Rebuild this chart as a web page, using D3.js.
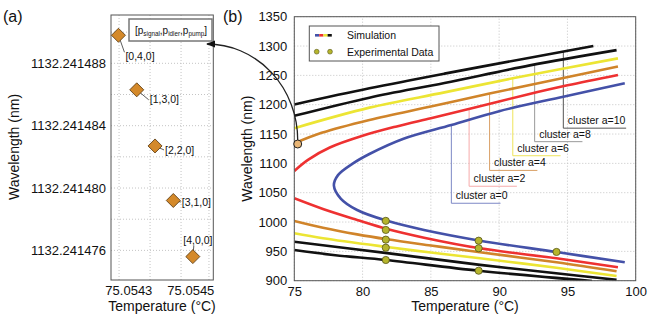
<!DOCTYPE html>
<html>
<head>
<meta charset="utf-8">
<script src="https://cdn.jsdelivr.net/npm/d3@7"></script>
<style>
  body { margin: 0; background: #fff; }
  text { font-family: "Liberation Sans", Arial, sans-serif; fill: #111; }
  .grid line { stroke: #c4c4c4; stroke-dasharray: 1,2; stroke-width: 1; }
</style>
</head>
<body>
<svg id="fig" width="654" height="322"></svg>
<script>
// ---- panel (a): mode combinations at the degenerate point ----
const modeLabels = ['[0,4,0]', '[1,3,0]', '[2,2,0]', '[3,1,0]', '[4,0,0]'];
const modeTemps = [75.054268, 75.054327, 75.054386, 75.054445, 75.054508];
const modeWaves = [1132.2414898, 1132.2414863, 1132.2414827, 1132.2414792, 1132.2414756];
const aWaveTicks = [1132.241476, 1132.241480, 1132.241484, 1132.241488];
const aWaveGrid = [1132.241476, 1132.241478, 1132.241480, 1132.241482, 1132.241484, 1132.241486, 1132.241488, 1132.241490];
const aTempTicks = [75.0543, 75.0545];
const aTempGrid = [75.05427, 75.05437, 75.05447, 75.05456];

// ---- panel (b): simulated clusters, [temperature, wavelength] ----
const simA0 = [[99.2,1236.5],[94.7,1213.6],[90,1189],[86.5,1165.4],[83,1142],[80.5,1116],[79.3,1100],[78.2,1080],
               [77.9,1062],[78.4,1040],[79.6,1020.5],[81.8,1002],[84.5,986.4],[88.6,968.2],[94.2,948.9],[99.2,931.4]];
const simA2Up = [[75,1087],[76,1106],[77.6,1127],[80,1147],[82.5,1163],[85,1177],[88,1194],[92,1217],[95,1233],[98.7,1250.6]];
const simA2Low = [[75,1040.4],[77.15,1021.7],[79.6,1003.5],[81.8,988.1],[84.5,973.3],[88.6,955.2],[94.2,938.2],[98.7,923]];
const simA4Up = [[75,1134],[77,1152],[80.5,1174],[85,1197],[89.3,1219],[94,1242],[98.7,1265]];
const simA4Low = [[75,1001.8],[77.1,990.3],[79.6,979],[81.8,970.6],[85,960],[88.6,948.4],[94.2,931.4],[98.6,916]];
const simA6Up = [[75,1160],[80.5,1195],[86,1221],[91,1245],[98.7,1279]];
const simA6Low = [[75,980.8],[77.1,972.3],[81.8,957.4],[85,948],[88.6,938.2],[94.2,922],[98.6,908]];
const simA8Up = [[75,1181],[80.5,1212],[86,1237],[92.25,1267],[98.6,1293]];
const simA8Low = [[75,966.5],[81.8,947],[88.6,927],[94,913],[98.6,901.5]];
const simA10Up = [[75,1200.5],[80.5,1228],[86,1253],[92.25,1280],[96.9,1300]];
const simA10Low = [[75,952.3],[78,943.5],[81.7,935.3],[88.5,917],[96.8,899.5]];

const expTemps = [81.7, 81.7, 81.7, 81.7, 81.7, 88.5, 88.5, 88.5, 94.2];
const expWaves = [1002, 986.5, 970, 956.3, 935.3, 968.2, 955.3, 917, 949];
const markedTemp = 75.25, markedWave = 1133;

const clusterNames = ['cluster a=0', 'cluster a=2', 'cluster a=4', 'cluster a=6', 'cluster a=8', 'cluster a=10'];
const clusterTagTemps = [86.5, 87.8, 89.3, 91.0, 92.6, 94.7];
const clusterTagWaves = [1032, 1061, 1088, 1113, 1137, 1160];
const clusterTagEnds = [90.1, 91.3, 92.8, 94.5, 96.1, 99.3];

const bTempTicks = [75, 80, 85, 90, 95, 100];
const bWaveTicks = [900, 950, 1000, 1050, 1100, 1150, 1200, 1250, 1300, 1350];

// styles
const curveColors = ['#4451a8', '#ee3131', '#d0842a', '#ece534', '#111', '#111'];
const tagColors = ['#7d88c6', '#f6aaaa', '#d9a066', '#eee45a', '#999', '#555'];

const svg = d3.select('#fig');

// ================= panel (a) =================
const xA = d3.scaleLinear().domain([75.054244, 75.054574]).range([111, 213.3]);
const yA = d3.scaleLinear().domain([1132.2414741, 1132.2414911]).range([280, 15]);

const gA = svg.append('g');
gA.append('g').attr('class', 'grid')
  .selectAll('line').data(aWaveGrid).enter().append('line')
  .attr('x1', xA.range()[0]).attr('x2', xA.range()[1])
  .attr('y1', d => yA(d)).attr('y2', d => yA(d));
gA.append('g').attr('class', 'grid')
  .selectAll('line').data(aTempGrid).enter().append('line')
  .attr('y1', yA.range()[0]).attr('y2', yA.range()[1])
  .attr('x1', d => xA(d)).attr('x2', d => xA(d));

let axA = gA.append('g').attr('transform', 'translate(111,0)')
  .call(d3.axisLeft(yA).tickValues(aWaveTicks).tickSize(0).tickPadding(5).tickFormat(d => d.toFixed(6)));
axA.select('.domain').remove();
axA.selectAll('text').style('font-size', '13px').attr('fill', '#111');

let axAx = gA.append('g').attr('transform', 'translate(0,280)')
  .call(d3.axisBottom(xA).tickValues(aTempTicks).tickSize(0).tickPadding(6).tickFormat(d => d.toFixed(4)));
axAx.select('.domain').remove();
axAx.selectAll('text').style('font-size', '13px').attr('fill', '#111');

gA.append('rect')
  .attr('x', 111).attr('y', 15).attr('width', 102.3).attr('height', 265)
  .attr('fill', 'none').attr('stroke', '#555');

// mode labels with leader lines
const modeOffsets = [[7, 21, 'start'], [13, 10, 'start'], [10, 4, 'start'], [8.5, 1.5, 'start'], [5, -16, 'middle']];
const modes = modeLabels.map((l, i) => ({ label: l, t: modeTemps[i], w: modeWaves[i], off: modeOffsets[i] }));

gA.selectAll('.lead').data(modes).enter().append('line')
  .attr('class', 'lead')
  .attr('x1', d => xA(d.t)).attr('y1', d => yA(d.w))
  .attr('x2', d => xA(d.t) + d.off[0] * (d.off[2] == 'middle' ? 0.2 : 1) - (d.off[2] == 'middle' ? 0 : 1))
  .attr('y2', d => yA(d.w) + d.off[1] + (d.off[2] == 'middle' ? 5 : (d.off[1] > 15 ? -4 : 0)))
  .attr('stroke', '#333').attr('stroke-width', 0.8);

gA.selectAll('.mode').data(modes).enter().append('path')
  .attr('class', 'mode')
  .attr('d', d3.symbol().type(d3.symbolSquare).size(98))
  .attr('transform', d => `translate(${xA(d.t)},${yA(d.w)}) rotate(45)`)
  .attr('fill', '#d4892a').attr('stroke', '#5a3a10').attr('stroke-width', 0.8);

gA.selectAll('.modeText').data(modes).enter().append('text')
  .attr('class', 'modeText')
  .attr('x', d => xA(d.t) + d.off[0]).attr('y', d => yA(d.w) + d.off[1])
  .attr('dy', '0.35em').attr('text-anchor', d => d.off[2])
  .style('font-size', '10.5px').text(d => d.label);

// legend box of panel (a)
gA.append('rect').attr('x', 129).attr('y', 19).attr('width', 83).attr('height', 22)
  .attr('fill', '#fff').attr('stroke', '#777').attr('stroke-width', 1.5);
let lt = gA.append('text').attr('x', 135).attr('y', 33.5).style('font-size', '10px');
lt.append('tspan').text('[p');
lt.append('tspan').attr('dy', 2.5).style('font-size', '6.3px').text('signal');
lt.append('tspan').attr('dy', -2.5).text(',p');
lt.append('tspan').attr('dy', 2.5).style('font-size', '6.3px').text('idler');
lt.append('tspan').attr('dy', -2.5).text(',p');
lt.append('tspan').attr('dy', 2.5).style('font-size', '6.3px').text('pump');
lt.append('tspan').attr('dy', -2.5).text(']');

gA.append('text').attr('transform', 'translate(19,147) rotate(-90)')
  .attr('text-anchor', 'middle').style('font-size', '14px').text('Wavelength (nm)');
gA.append('text').attr('x', 162).attr('y', 311)
  .attr('text-anchor', 'middle').style('font-size', '14px').text('Temperature (°C)');
svg.append('text').attr('x', 3).attr('y', 22).style('font-size', '16px').text('(a)');

// ================= panel (b) =================
const xB = d3.scaleLinear().domain([75, 100]).range([294.3, 635.7]);
const yB = d3.scaleLinear().domain([900, 1350]).range([280.7, 16.7]);

const gB = svg.append('g');
gB.append('g').attr('class', 'grid')
  .selectAll('line').data(bWaveTicks).enter().append('line')
  .attr('x1', xB.range()[0]).attr('x2', xB.range()[1])
  .attr('y1', d => yB(d)).attr('y2', d => yB(d));
gB.append('g').attr('class', 'grid')
  .selectAll('line').data(bTempTicks).enter().append('line')
  .attr('y1', yB.range()[0]).attr('y2', yB.range()[1])
  .attr('x1', d => xB(d)).attr('x2', d => xB(d));

let axB = gB.append('g').attr('transform', 'translate(294.3,0)')
  .call(d3.axisLeft(yB).tickValues(bWaveTicks).tickSize(0).tickPadding(7).tickFormat(d3.format('d')));
axB.select('.domain').remove();
axB.selectAll('text').style('font-size', '13px').attr('fill', '#111');

let axBx = gB.append('g').attr('transform', 'translate(0,280.7)')
  .call(d3.axisBottom(xB).tickValues(bTempTicks).tickSize(0).tickPadding(6).tickFormat(d3.format('d')));
axBx.select('.domain').remove();
axBx.selectAll('text').style('font-size', '13px').attr('fill', '#111');

gB.append('clipPath').attr('id', 'clipB').append('rect')
  .attr('x', 294.3).attr('y', 16.7).attr('width', 341.4).attr('height', 264);

const line = d3.line().x(d => xB(d[0])).y(d => yB(d[1])).curve(d3.curveCatmullRom.alpha(0.5));
const branches = [
  [simA0, 0], [simA2Up, 1], [simA2Low, 1], [simA4Up, 2], [simA4Low, 2],
  [simA6Up, 3], [simA6Low, 3], [simA8Up, 4], [simA8Low, 4], [simA10Up, 5], [simA10Low, 5]
];

// cluster leaders, drawn under the curves
const upperBranches = [simA0.slice(0, 9), simA2Up, simA4Up, simA6Up, simA8Up, simA10Up];
const tags = clusterNames.map((n, i) => {
  let pts = upperBranches[i];
  let f = d3.scaleLinear().domain(pts.map(p => p[0])).range(pts.map(p => p[1]));
  return { name: n, t: clusterTagTemps[i], w: clusterTagWaves[i], end: clusterTagEnds[i], top: f(clusterTagTemps[i]), c: tagColors[i] };
});
gB.selectAll('.tag').data(tags).enter().append('path')
  .attr('class', 'tag')
  .attr('d', d => `M${xB(d.t)},${yB(d.top)}V${yB(d.w)}H${xB(d.end)}`)
  .attr('fill', 'none').attr('stroke', d => d.c).attr('stroke-width', 1);
gB.selectAll('.tagText').data(tags).enter().append('text')
  .attr('class', 'tagText')
  .attr('x', d => xB(d.t) + 4.5).attr('y', d => yB(d.w) - 4)
  .style('font-size', '10.5px').text(d => d.name);

gB.append('g').attr('clip-path', 'url(#clipB)')
  .selectAll('path').data(branches).enter().append('path')
  .attr('d', d => line(d[0]))
  .attr('fill', 'none').attr('stroke', d => curveColors[d[1]]).attr('stroke-width', 2.6);

const exps = expTemps.map((t, i) => ({ t: t, w: expWaves[i] }));
gB.selectAll('.exp').data(exps).enter().append('circle')
  .attr('class', 'exp')
  .attr('cx', d => xB(d.t)).attr('cy', d => yB(d.w)).attr('r', 3.6)
  .attr('fill', '#b6b52c').attr('stroke', '#55551a').attr('stroke-width', 0.8);

gB.append('rect')
  .attr('x', 294.3).attr('y', 16.7).attr('width', 341.4).attr('height', 264)
  .attr('fill', 'none').attr('stroke', '#555');

// legend of panel (b)
gB.append('rect').attr('x', 309.3).attr('y', 26).attr('width', 129.7).attr('height', 35)
  .attr('fill', '#fff').attr('stroke', '#555');
const sampleColors = ['#4451a8', '#ee3131', '#ece534', '#111'];
gB.selectAll('.sample').data(sampleColors).enter().append('line')
  .attr('class', 'sample')
  .attr('x1', (d, i) => 315 + i * 4.2).attr('x2', (d, i) => 315 + (i + 1) * 4.2)
  .attr('y1', 35.3).attr('y2', 35.3)
  .attr('stroke', d => d).attr('stroke-width', 2.6);
gB.selectAll('.ldot').data([316.7, 330]).enter().append('circle')
  .attr('class', 'ldot')
  .attr('cx', d => d).attr('cy', 51.7).attr('r', 2.4)
  .attr('fill', '#b6b52c').attr('stroke', '#55551a').attr('stroke-width', 0.6);
gB.append('text').attr('x', 347).attr('y', 39).style('font-size', '10.5px').text('Simulation');
gB.append('text').attr('x', 347).attr('y', 55.5).style('font-size', '10.5px').text('Experimental Data');

gB.append('text').attr('transform', 'translate(252,148.7) rotate(-90)')
  .attr('text-anchor', 'middle').style('font-size', '14px').text('Wavelength (nm)');
gB.append('text').attr('x', 465).attr('y', 311)
  .attr('text-anchor', 'middle').style('font-size', '14px').text('Temperature (°C)');
svg.append('text').attr('x', 223).attr('y', 22).style('font-size', '16px').text('(b)');

// arrow from the marked point in (b) to the mode diagram in (a)
svg.append('defs').append('marker')
  .attr('id', 'head').attr('viewBox', '0 0 10 10').attr('refX', 9).attr('refY', 5)
  .attr('markerWidth', 7).attr('markerHeight', 7).attr('orient', 'auto')
  .append('path').attr('d', 'M0,1L10,5L0,9Z').attr('fill', '#111');

const mx = xB(markedTemp), my = yB(markedWave);
const ex = 207, ey = 44;
svg.append('path')
  .attr('d', `M${mx},${my - 4}A${mx - ex},${my - 4 - ey} 0 0 0 ${ex},${ey}`)
  .attr('fill', 'none').attr('stroke', '#222').attr('stroke-width', 1.3)
  .attr('marker-end', 'url(#head)');
svg.append('circle').attr('cx', mx).attr('cy', my).attr('r', 4)
  .attr('fill', '#e9b676').attr('stroke', '#222').attr('stroke-width', 1);
</script>
</body>
</html>
